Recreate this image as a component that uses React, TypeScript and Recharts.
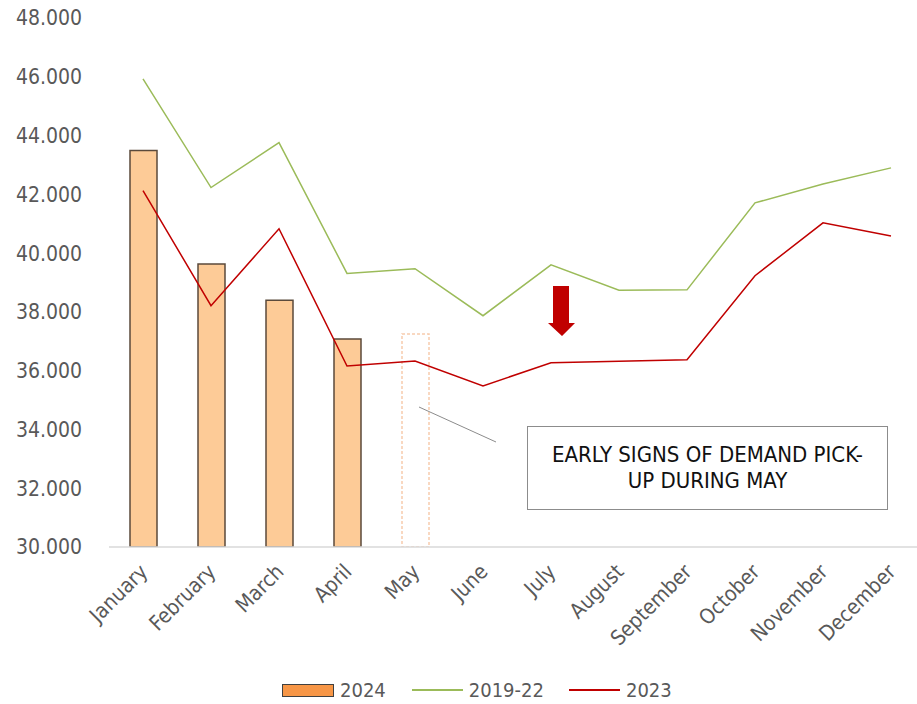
import * as React from 'react';
import { ComposedChart, Bar, Cell, Line, XAxis, YAxis, Legend } from 'recharts';

const months = ['January', 'February', 'March', 'April', 'May', 'June', 'July', 'August', 'September', 'October', 'November', 'December'];
const sales2024 = [43490, 39630, 38400, 37080, 37250, null, null, null, null, null, null, null];
const sales201922 = [45930, 42230, 43760, 39310, 39470, 37870, 39600, 38740, 38750, 41710, 42350, 42900];
const sales2023 = [42130, 38210, 40830, 36160, 36330, 35480, 36270, 36320, 36370, 39230, 41030, 40580];
const yTicks = [30000, 32000, 34000, 36000, 38000, 40000, 42000, 44000, 46000, 48000];
const projectedMonth = 'May';
const noteText = ['EARLY SIGNS OF DEMAND PICK-', 'UP DURING MAY'];

const data = months.map((m, i) => ({
  month: m,
  y2024: sales2024[i],
  y201922: sales201922[i],
  y2023: sales2023[i],
}));

const FONT = '"DejaVu Sans Condensed", "DejaVu Sans", sans-serif';
const GREY = '#595959';
const GREEN = '#9bbb59';
const RED = '#c00000';

const fmt = (v: number) => `${v / 1000}.000`;

const MonthTick = (props: any) => {
  const { x, y, payload } = props;
  const ax = x + 6;
  const ay = y + 26;
  return (
    <text x={ax} y={ay} transform={`rotate(-45, ${ax}, ${ay})`} textAnchor="end"
      fill={GREY} fontSize={21} fontFamily={FONT}>
      {payload.value}
    </text>
  );
};

const LegendContent = () => (
  <div style={{ display: 'flex', alignItems: 'center', height: 40, paddingLeft: 282, paddingTop: 12, boxSizing: 'border-box',
    fontFamily: FONT, fontSize: 20, color: GREY }}>
    <span style={{ display: 'inline-block', width: 50, height: 11, background: '#f79646', border: '1px solid #404040' }} />
    <span style={{ marginLeft: 6, marginRight: 26 }}>2024</span>
    <span style={{ display: 'inline-block', width: 51, height: 2, background: GREEN }} />
    <span style={{ marginLeft: 6, marginRight: 25 }}>2019-22</span>
    <span style={{ display: 'inline-block', width: 51, height: 2, background: RED }} />
    <span style={{ marginLeft: 6 }}>2023</span>
  </div>
);

const App = () => {
  return (
    <div style={{ position: 'absolute', left: 0, top: 0, width: 917, height: 704, overflow: 'hidden', background: '#fff' }}>
      <ComposedChart width={930} height={704} data={data}
        margin={{ top: 18, right: 5, left: 0, bottom: 0 }}>
        <XAxis dataKey="month" height={117} interval={0} tickLine={false} tickSize={0} tickMargin={0}
          axisLine={{ stroke: '#d9d9d9', strokeWidth: 1.5 }} tick={<MonthTick />} />
        <YAxis width={109} domain={[30000, 48000]} ticks={yTicks} tickFormatter={fmt} axisLine={false}
          tickLine={false} tickSize={0} tickMargin={27} allowDataOverflow
          tick={{ fill: GREY, fontSize: 21, fontFamily: FONT }} />
        <Legend verticalAlign="bottom" height={40} wrapperStyle={{ left: 0, width: 930 }} content={<LegendContent />} />
        <Bar dataKey="y2024" name="2024" barSize={27} isAnimationActive={false}>
          {data.map((d) =>
            d.month === projectedMonth ? (
              <Cell key={d.month} fill="none" stroke="#f8cbad" strokeWidth={1.5} strokeDasharray="3 2" />
            ) : (
              <Cell key={d.month} fill="#fdcb97" stroke="#5b4a3b" strokeWidth={1.5} />
            )
          )}
        </Bar>
        <Line dataKey="y201922" name="2019-22" stroke={GREEN} strokeWidth={1.5} dot={false} isAnimationActive={false} />
        <Line dataKey="y2023" name="2023" stroke={RED} strokeWidth={1.5} dot={false} isAnimationActive={false} />
      </ComposedChart>
      <svg width={917} height={704} style={{ position: 'absolute', left: 0, top: 0, pointerEvents: 'none' }}>
        <line x1={419} y1={407} x2={496} y2={442} stroke="#8c8c8c" strokeWidth={1} />
        <polygon points="553,286 569,286 569,323 575,323 562,336 548,323 553,323" fill={RED} />
      </svg>
      <div style={{ position: 'absolute', left: 527, top: 426, width: 361, height: 84, boxSizing: 'border-box',
        border: '1.5px solid #8c8c8c', display: 'flex', flexDirection: 'column', alignItems: 'center',
        justifyContent: 'center', fontFamily: FONT, fontSize: 22, lineHeight: '26px', color: '#111', background: '#fff' }}>
        {noteText.map((t) => <div key={t}>{t}</div>)}
      </div>
    </div>
  );
};

export default App;
